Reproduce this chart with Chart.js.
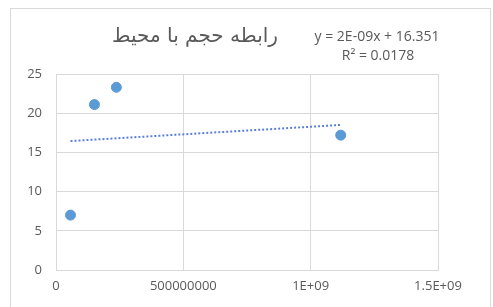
<!DOCTYPE html>
<html>
<head>
<meta charset="utf-8">
<script src="https://cdn.jsdelivr.net/npm/chart.js@4"></script>
<style>
  html, body { margin: 0; padding: 0; background: #fff; }
  #wrap { position: relative; width: 493px; height: 307px; }
</style>
</head>
<body>
<div id="wrap"><canvas id="scatterChart"></canvas></div>
<script>
/* volume vs perimeter scatter with a linear trendline, Excel style */

const chartTitle = "رابطه حجم با محیط";
const equationLines = ["y = 2E-09x + 16.351", "R² = 0.0178"];

const volumes = [57000000, 151000000, 237000000, 1118000000]; // x values
const perimeters = [7.0, 21.1, 23.3, 17.2]; // y values

const trendX = [57000000, 1118000000]; // trendline ends
const trendY = [16.45, 18.5];

const xTicks = [0, 500000000, 1000000000, 1500000000];
const xTickLabels = ["0", "500000000", "1E+09", "1.5E+09"];
const yTicks = [0, 5, 10, 15, 20, 25];

const textColor = "#595959";
const gridColor = "#d9d9d9";
const dotColor = "#5b9bd5";

// draws frame, title and equation text
const decorations = {
  id: "decorations",
  beforeDraw(chart) {
    const ctx = chart.ctx;
    ctx.save();
    ctx.strokeStyle = gridColor;
    ctx.lineWidth = 1;
    ctx.strokeRect(10.5, 8.5, 480, 320);
    ctx.restore();
  },
  afterDraw(chart) {
    const ctx = chart.ctx;
    ctx.save();
    ctx.fillStyle = textColor;
    ctx.textAlign = "center";
    ctx.textBaseline = "middle";
    ctx.font = "20px 'DejaVu Sans'";
    ctx.fillText(chartTitle, 195, 37);
    ctx.font = "14px 'Open Sans'";
    ctx.fillText(equationLines[0], 377, 37);
    ctx.fillText(equationLines[1], 378, 56);
    ctx.restore();
  },
};

const ctx = document.getElementById("scatterChart");

new Chart(ctx, {
  type: "scatter",
  data: {
    datasets: [
      {
        label: "trend",
        type: "line",
        data: trendX.map((x, i) => ({ x: x, y: trendY[i] })),
        borderColor: "#5b7fd5",
        borderWidth: 2,
        borderDash: [2, 2],
        pointRadius: 0,
        fill: false,
      },
      {
        label: "data",
        data: volumes.map((x, i) => ({ x: x, y: perimeters[i] })),
        backgroundColor: dotColor,
        borderColor: dotColor,
        pointRadius: 5,
        pointHoverRadius: 5,
      },
    ],
  },
  plugins: [decorations],
  options: {
    responsive: true,
    maintainAspectRatio: false,
    animation: false,
    layout: {
      padding: { top: 74, right: 55, bottom: 0, left: 0 },
    },
    scales: {
      x: {
        type: "linear",
        min: 0,
        max: 1500000000,
        afterBuildTicks: (axis) => {
          axis.ticks = xTicks.map((v) => ({ value: v }));
        },
        afterFit: (axis) => {
          axis.height = 37;
        },
        ticks: {
          color: textColor,
          font: { family: "Open Sans", size: 13 },
          maxRotation: 0,
          padding: 8,
          callback: function (val, index) {
            return xTickLabels[index];
          },
        },
        grid: { color: gridColor, drawTicks: false },
        border: { color: gridColor },
      },
      y: {
        min: 0,
        max: 25,
        afterBuildTicks: (axis) => {
          axis.ticks = yTicks.map((v) => ({ value: v }));
        },
        afterFit: (axis) => {
          axis.width = 56;
        },
        ticks: {
          color: textColor,
          font: { family: "Open Sans", size: 13 },
          padding: 14,
        },
        grid: { color: gridColor, drawTicks: false },
        border: { display: false },
      },
    },
    plugins: {
      legend: { display: false },
      title: { display: false },
      tooltip: { enabled: false },
    },
  },
});
</script>
</body>
</html>
